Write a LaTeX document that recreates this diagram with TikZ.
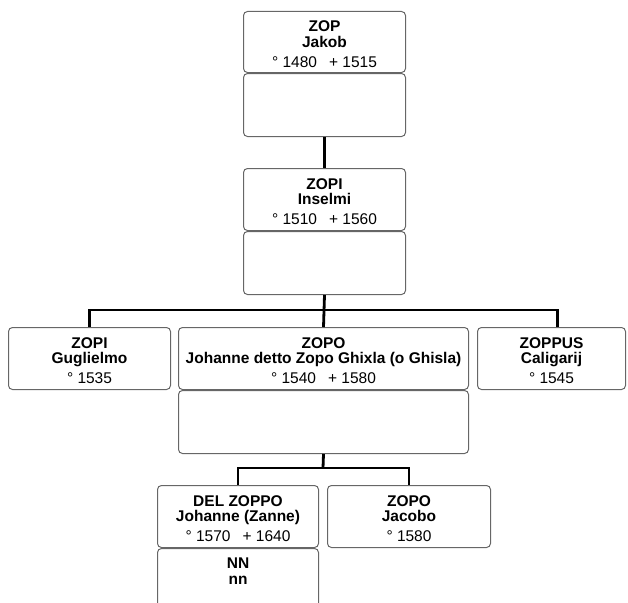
\documentclass[tikz,border=0pt]{standalone}
\usepackage{fontspec}
\setmainfont{Liberation Sans}

\begin{document}
\begin{tikzpicture}[x=1pt, y=-1pt,
    box/.style={draw=black!60, line width=1pt, rounded corners=4pt, inner sep=0pt,
      align=center, anchor=north west, font=\fontsize{15.5}{15.5}\selectfont},
    link/.style={line width=2.8pt}]
  \useasboundingbox (0,0) rectangle (628,602);
  \clip (0,0) rectangle (628,602);
  % Jakob
  \node[box, minimum width=162, minimum height=61] (zop) at (243,11)
    {\rule{0pt}{15pt}\textbf{ZOP}\\\textbf{Jakob}\\[4.5pt]° 1480\hspace{12pt}+ 1515};
  \node[box, anchor=north, minimum width=162, minimum height=63] (zopS) at (zop.south) {};
  % Inselmi
  \node[box, minimum width=162, minimum height=62] (zopi) at (243,168)
    {\rule{0pt}{15pt}\textbf{ZOPI}\\\textbf{Inselmi}\\[4.5pt]° 1510\hspace{12pt}+ 1560};
  \node[box, anchor=north, minimum width=162, minimum height=63] (zopiS) at (zopi.south) {};
  % children of Inselmi
  \node[box, minimum width=162, minimum height=62] (gugl) at (8,327)
    {\rule{0pt}{15pt}\textbf{ZOPI}\\\textbf{Guglielmo}\\[4.5pt]° 1535};
  \node[box, minimum width=290, minimum height=62] (johanne) at (178,327)
    {\rule{0pt}{15pt}\textbf{ZOPO}\\\textbf{Johanne detto Zopo Ghixla (o Ghisla)}\\[4.5pt]° 1540\hspace{12pt}+ 1580};
  \node[box, anchor=north, minimum width=290, minimum height=63] (johanneS) at (johanne.south) {};
  \node[box, minimum width=148, minimum height=62] (zoppus) at (477,327)
    {\rule{0pt}{15pt}\textbf{ZOPPUS}\\\textbf{Caligarij}\\[4.5pt]° 1545};
  % children of Johanne
  \node[box, minimum width=161, minimum height=62] (delzoppo) at (157,485)
    {\rule{0pt}{15pt}\textbf{DEL ZOPPO}\\\textbf{Johanne (Zanne)}\\[4.5pt]° 1570\hspace{12pt}+ 1640};
  \node[box, anchor=north, minimum width=161, minimum height=80] (nn) at (delzoppo.south) {};
  \node[font=\fontsize{15.5}{15.5}\selectfont\bfseries, align=center, anchor=north, inner sep=0pt]
    (nntext) at ([yshift=-10]nn.north) {NN\\nn};
  \node[box, minimum width=163, minimum height=62] (jacobo) at (327,485)
    {\rule{0pt}{15pt}\textbf{ZOPO}\\\textbf{Jacobo}\\[4.5pt]° 1580};
  % lines
  \coordinate (bar) at (323,310);
  \coordinate (bar2) at (323,468);
  \draw[link] (zopS.south) -- (zopi.north);
  \draw[link] (zopiS.south) -- (johanne.north);
  \draw[link] (gugl.north) |- (bar) -| ([xshift=6]zoppus.north);
  \draw[link] (johanneS.south) -- (bar2);
  \draw[link] (delzoppo.north) |- (bar2) -| (jacobo.north);
\end{tikzpicture}
\end{document}
